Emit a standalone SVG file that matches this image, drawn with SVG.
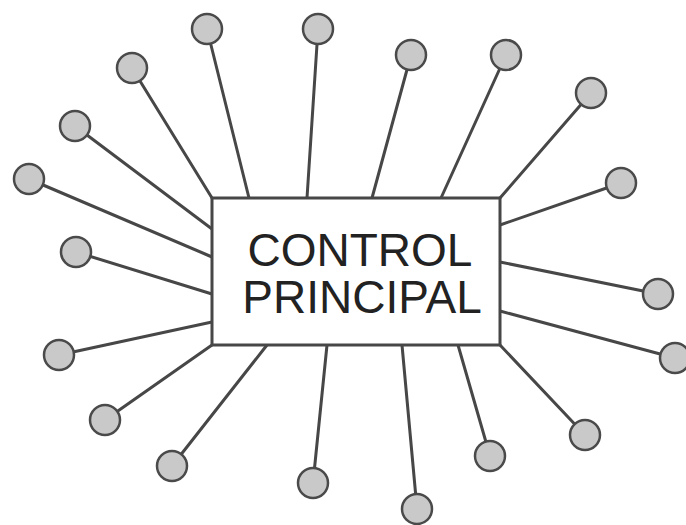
<svg xmlns="http://www.w3.org/2000/svg" width="686" height="525" viewBox="0 0 686 525">
<style>
.ln{stroke:#474747;stroke-width:3;stroke-linecap:round}
.nd{fill:#c9c9c9;stroke:#4a4a4a;stroke-width:2.5}
.bx{fill:#fff;stroke:#474747;stroke-width:3}
.tx{font-family:"Liberation Sans",Arial,sans-serif;font-size:46px;fill:#222;text-anchor:middle}
</style>
<rect width="686" height="525" fill="#fff"/>
<g id="connectors">
<line class="ln" x1="207" y1="29" x2="249" y2="198"/>
<line class="ln" x1="318" y1="29" x2="307" y2="198"/>
<line class="ln" x1="411" y1="55" x2="372" y2="198"/>
<line class="ln" x1="506" y1="55" x2="441" y2="198"/>
<line class="ln" x1="591" y1="93" x2="500" y2="198"/>
<line class="ln" x1="621" y1="183" x2="500" y2="225"/>
<line class="ln" x1="658" y1="294" x2="500" y2="262"/>
<line class="ln" x1="675" y1="358" x2="500" y2="311"/>
<line class="ln" x1="585" y1="435" x2="500" y2="345"/>
<line class="ln" x1="490" y1="456" x2="458" y2="345"/>
<line class="ln" x1="417" y1="509" x2="402" y2="345"/>
<line class="ln" x1="313" y1="483" x2="327" y2="345"/>
<line class="ln" x1="172" y1="466" x2="267" y2="345"/>
<line class="ln" x1="105" y1="420" x2="212" y2="345"/>
<line class="ln" x1="59" y1="355" x2="212" y2="322"/>
<line class="ln" x1="76" y1="252" x2="212" y2="294"/>
<line class="ln" x1="29" y1="179" x2="212" y2="257"/>
<line class="ln" x1="75" y1="126" x2="212" y2="229"/>
<line class="ln" x1="132" y1="68" x2="212" y2="198"/>
</g>
<g id="main">
<rect class="bx" x="212" y="198" width="288" height="147"/>
<text class="tx" x="360" y="266">CONTROL</text>
<text class="tx" x="362" y="313">PRINCIPAL</text>
</g>
<g id="n1"><circle class="nd" cx="207" cy="29" r="15"/></g>
<g id="n2"><circle class="nd" cx="318" cy="29" r="15"/></g>
<g id="n3"><circle class="nd" cx="411" cy="55" r="15"/></g>
<g id="n4"><circle class="nd" cx="506" cy="55" r="15"/></g>
<g id="n5"><circle class="nd" cx="591" cy="93" r="15"/></g>
<g id="n6"><circle class="nd" cx="621" cy="183" r="15"/></g>
<g id="n7"><circle class="nd" cx="658" cy="294" r="15"/></g>
<g id="n8"><circle class="nd" cx="675" cy="358" r="15"/></g>
<g id="n9"><circle class="nd" cx="585" cy="435" r="15"/></g>
<g id="n10"><circle class="nd" cx="490" cy="456" r="15"/></g>
<g id="n11"><circle class="nd" cx="417" cy="509" r="15"/></g>
<g id="n12"><circle class="nd" cx="313" cy="483" r="15"/></g>
<g id="n13"><circle class="nd" cx="172" cy="466" r="15"/></g>
<g id="n14"><circle class="nd" cx="105" cy="420" r="15"/></g>
<g id="n15"><circle class="nd" cx="59" cy="355" r="15"/></g>
<g id="n16"><circle class="nd" cx="76" cy="252" r="15"/></g>
<g id="n17"><circle class="nd" cx="29" cy="179" r="15"/></g>
<g id="n18"><circle class="nd" cx="75" cy="126" r="15"/></g>
<g id="n19"><circle class="nd" cx="132" cy="68" r="15"/></g>
</svg>
